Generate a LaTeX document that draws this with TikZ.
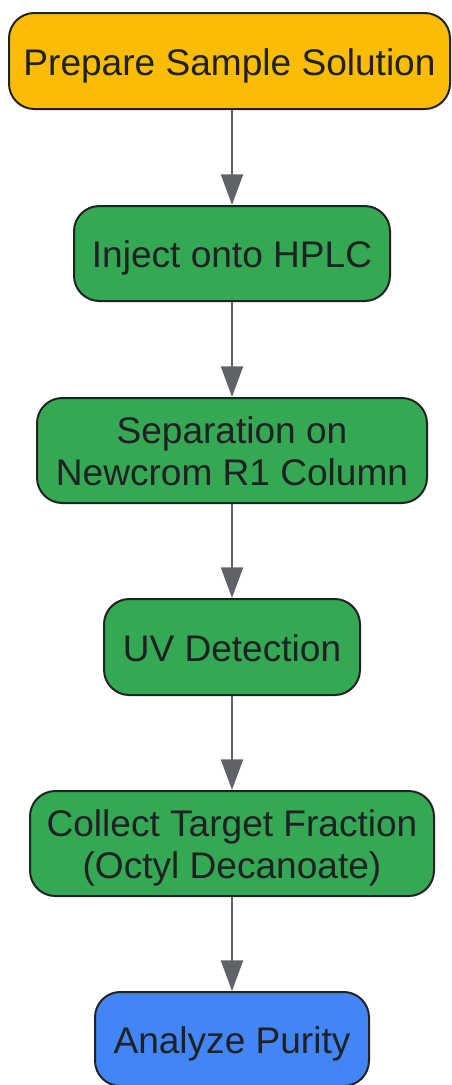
\documentclass[tikz,border=0pt]{standalone}
\usepackage{fontspec}
\setmainfont{Liberation Sans}
\usetikzlibrary{arrows.meta}
\definecolor{cyellow}{HTML}{FBBC05}
\definecolor{cgreen}{HTML}{34A853}
\definecolor{cblue}{HTML}{4285F4}
\definecolor{cedge}{HTML}{5F6368}
\definecolor{cborder}{HTML}{222222}
\definecolor{ctext}{HTML}{202124}
\newcommand{\tstr}{\rule[-8pt]{0pt}{37pt}}
\newcommand{\bstr}{\rule[-8pt]{0pt}{8pt}}
\tikzset{
  box/.style={draw=cborder, line width=1.5pt, rounded corners=19pt, text=ctext,
    font=\fontsize{27.8}{31.5}\selectfont, align=center, inner sep=0pt},
  conn/.style={draw=cedge, line width=1.5pt, -{Triangle[length=23pt,width=16.5pt]}}
}
\begin{document}
\begin{tikzpicture}[x=0.75pt,y=-0.75pt]
\useasboundingbox (0,0) rectangle (451,1085);
\node[box, fill=cyellow, minimum width=441*0.75pt, minimum height=96*0.75pt] (n1) at (229.5,61) {\tstr Prepare Sample Solution};
\node[box, fill=cgreen, minimum width=316*0.75pt, minimum height=95*0.75pt] (n2) at (232,253.5) {\tstr Inject onto HPLC};
\node[box, fill=cgreen, minimum width=390*0.75pt, minimum height=105*0.75pt] (n3) at (232,450.5) {\tstr Separation on\\Newcrom R1 Column\bstr};
\node[box, fill=cgreen, minimum width=256*0.75pt, minimum height=96*0.75pt] (n4) at (232,647) {\tstr UV Detection};
\node[box, fill=cgreen, minimum width=404*0.75pt, minimum height=105*0.75pt] (n5) at (232,843.5) {\tstr Collect Target Fraction\\(Octyl Decanoate)\bstr};
\node[box, fill=cblue, minimum width=274*0.75pt, minimum height=94*0.75pt] (n6) at (232,1039) {\tstr Analyze Purity};
\draw[conn] (n2.north |- n1.south) -- (n2.north);
\draw[conn] (n2.south) -- (n3.north);
\draw[conn] (n3.south) -- (n4.north);
\draw[conn] (n4.south) -- (n5.north);
\draw[conn] (n5.south) -- (n6.north);
\end{tikzpicture}
\end{document}
